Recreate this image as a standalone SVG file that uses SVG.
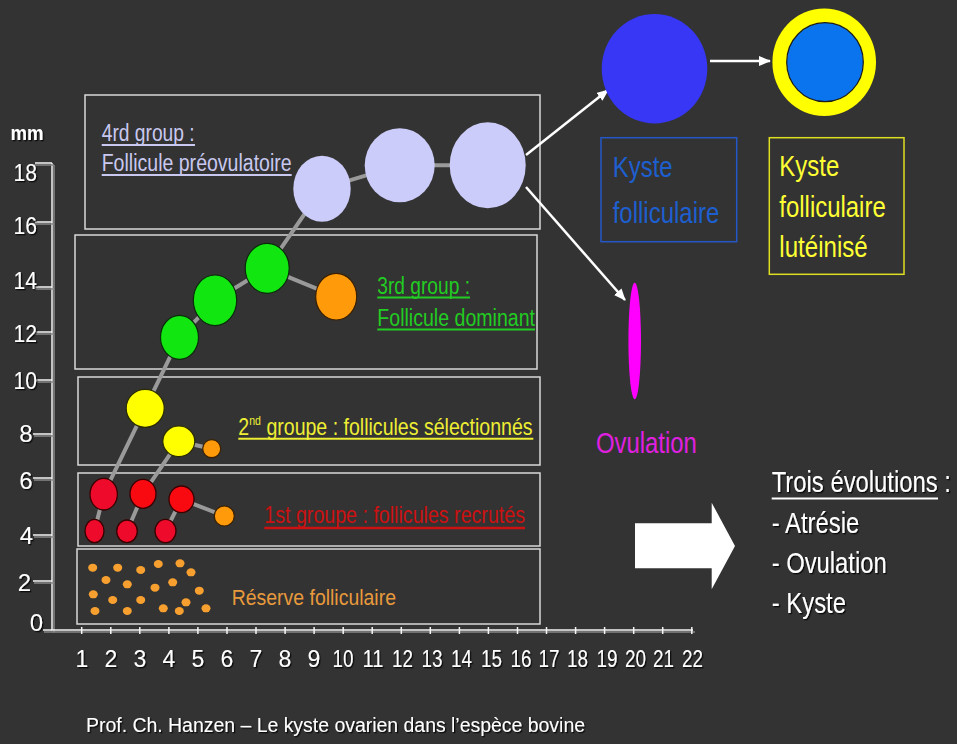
<svg xmlns="http://www.w3.org/2000/svg" width="957" height="744" viewBox="0 0 957 744">
<defs>
<style>
text{font-family:"Liberation Sans",Arial,sans-serif}
.box{fill:none;stroke:#d9d9d9;stroke-width:1.5}
.ax{stroke:#f4f4f4;stroke-width:1.5;fill:none}
.axs{stroke:#888;stroke-width:1.5;fill:none}
.wt{fill:#fff;filter:url(#sh)}
.yl{font-size:24px;text-anchor:end}
.xl{font-size:23px;text-anchor:middle}
.con{stroke:#9a9a9a;stroke-width:4;stroke-linecap:round}
.arr{stroke:#fff;stroke-width:2.5;fill:none}
.lav{fill:#ccccfa}
.grn{fill:#11e611;stroke:#0a2a0a;stroke-width:1.2}
.org{fill:#ff9a0a;stroke:#3a2000;stroke-width:1.2}
.yel{fill:#ffff00;stroke:#2a2a00;stroke-width:1.2}
.red{fill:#ee0a2a;stroke:#3a0000;stroke-width:1.3}
.dot{fill:#f7a030}
.ul{stroke-width:1.8}
</style>
<filter id="sh" x="-10%" y="-20%" width="130%" height="150%">
<feDropShadow dx="1.3" dy="1.3" stdDeviation="0.7" flood-color="#000" flood-opacity="0.8"/>
</filter>
<marker id="ah" viewBox="0 0 12 10" refX="11" refY="5" markerWidth="12" markerHeight="10" markerUnits="userSpaceOnUse" orient="auto">
<path d="M0,0 L12,5 L0,10 z" fill="#fff"/>
</marker>
</defs>
<rect x="0" y="0" width="957" height="744" fill="#333333"/>

<!-- axes -->
<g id="axes">
<path class="axs" d="M54,165 V632 H695"/>
<path class="ax" d="M52,163 V630 H693"/>
<g class="axs">
<line x1="34" y1="165" x2="54" y2="165"/><line x1="34" y1="224" x2="54" y2="224"/><line x1="34" y1="289" x2="54" y2="289"/><line x1="34" y1="334" x2="54" y2="334"/><line x1="34" y1="382" x2="54" y2="382"/><line x1="34" y1="436" x2="54" y2="436"/><line x1="34" y1="480" x2="54" y2="480"/><line x1="34" y1="537" x2="54" y2="537"/><line x1="34" y1="583" x2="54" y2="583"/><line x1="44" y1="632" x2="54" y2="632"/>
</g>
<g class="ax">
<line x1="35" y1="163" x2="52" y2="163"/><line x1="35" y1="222" x2="52" y2="222"/><line x1="35" y1="287" x2="52" y2="287"/><line x1="35" y1="332" x2="52" y2="332"/><line x1="35" y1="380" x2="52" y2="380"/><line x1="33" y1="434" x2="52" y2="434"/><line x1="33" y1="478" x2="52" y2="478"/><line x1="33" y1="535" x2="52" y2="535"/><line x1="33" y1="581" x2="52" y2="581"/><line x1="43" y1="630" x2="52" y2="630"/>
</g>
<g class="ax" stroke-width="1.2">
<path d="M81.7,627V634M110.8,627V634M139.8,627V634M168.9,627V634M197.9,627V634M227,627V634M256,627V634M285.1,627V634M314.1,627V634M343.2,627V634M372.2,627V634M401.3,627V634M430.3,627V634M459.4,627V634M488.4,627V634M517.5,627V634M546.5,627V634M575.6,627V634M604.6,627V634M633.7,627V634M662.7,627V634M691.8,627V634"/>
</g>
<text class="wt" x="10.5" y="140" font-size="20" font-weight="bold" textLength="33" lengthAdjust="spacingAndGlyphs">mm</text>
<g class="wt yl">
<text x="37" y="180.5" textLength="23.5" lengthAdjust="spacingAndGlyphs">18</text>
<text x="37" y="234" textLength="23.5" lengthAdjust="spacingAndGlyphs">16</text>
<text x="37" y="289" textLength="23.5" lengthAdjust="spacingAndGlyphs">14</text>
<text x="37" y="342" textLength="23.5" lengthAdjust="spacingAndGlyphs">12</text>
<text x="37" y="389" textLength="23.5" lengthAdjust="spacingAndGlyphs">10</text>
<text x="32.5" y="442">8</text>
<text x="32.5" y="489">6</text>
<text x="33" y="544">4</text>
<text x="31" y="591">2</text>
<text x="43" y="631">0</text>
</g>
<g class="wt xl">
<text x="82" y="667">1</text><text x="111" y="667">2</text><text x="140" y="667">3</text><text x="169" y="667">4</text><text x="198" y="667">5</text><text x="227" y="667">6</text><text x="256" y="667">7</text><text x="285" y="667">8</text><text x="314" y="667">9</text>
<text x="343" y="667" textLength="21" lengthAdjust="spacingAndGlyphs">10</text>
<text x="373" y="667" textLength="21" lengthAdjust="spacingAndGlyphs">11</text>
<text x="402.5" y="667" textLength="21" lengthAdjust="spacingAndGlyphs">12</text>
<text x="432" y="667" textLength="21" lengthAdjust="spacingAndGlyphs">13</text>
<text x="461.5" y="667" textLength="21" lengthAdjust="spacingAndGlyphs">14</text>
<text x="491.5" y="667" textLength="21" lengthAdjust="spacingAndGlyphs">15</text>
<text x="521" y="667" textLength="21" lengthAdjust="spacingAndGlyphs">16</text>
<text x="549" y="667" textLength="21" lengthAdjust="spacingAndGlyphs">17</text>
<text x="577.5" y="667" textLength="21" lengthAdjust="spacingAndGlyphs">18</text>
<text x="607" y="667" textLength="21" lengthAdjust="spacingAndGlyphs">19</text>
<text x="635.5" y="667" textLength="21" lengthAdjust="spacingAndGlyphs">20</text>
<text x="663.5" y="667" textLength="21" lengthAdjust="spacingAndGlyphs">21</text>
<text x="692.5" y="667" textLength="21" lengthAdjust="spacingAndGlyphs">22</text>
</g>
</g>

<!-- group boxes -->
<g id="group4">
<rect class="box" x="85" y="95" width="455" height="134"/>
<text x="101.7" y="141" font-size="23" fill="#c8c8f0" textLength="93" lengthAdjust="spacingAndGlyphs">4rd group :</text>
<line class="ul" x1="101.7" y1="145" x2="195" y2="145" stroke="#c8c8f0"/>
<text x="101.7" y="171" font-size="23" fill="#c8c8f0" textLength="190" lengthAdjust="spacingAndGlyphs">Follicule préovulatoire</text>
<line class="ul" x1="101.7" y1="175" x2="291.7" y2="175" stroke="#c8c8f0"/>
</g>
<g id="group3">
<rect class="box" x="75" y="235" width="462" height="134"/>
<text x="377.3" y="294" font-size="23" fill="#22cc22" textLength="92.7" lengthAdjust="spacingAndGlyphs">3rd group :</text>
<line class="ul" x1="377.3" y1="297.5" x2="470" y2="297.5" stroke="#22cc22"/>
<text x="377.3" y="326" font-size="23" fill="#22cc22" textLength="157.7" lengthAdjust="spacingAndGlyphs">Follicule dominant</text>
<line class="ul" x1="377.3" y1="329.5" x2="535" y2="329.5" stroke="#22cc22"/>
</g>
<g id="group2">
<rect class="box" x="78" y="377" width="462" height="88"/>
<text transform="translate(238.3 435) scale(0.815 1)" font-size="24" fill="#eeee33">2<tspan font-size="13" dy="-10">nd</tspan><tspan dy="10"> groupe : follicules sélectionnés</tspan></text>
<line x1="238.3" y1="438.8" x2="533.3" y2="438.8" stroke="#eeee33" stroke-width="2"/>
</g>
<g id="group1">
<rect class="box" x="78" y="473" width="462" height="73"/>
<text x="264.3" y="523.3" font-size="24" fill="#cc1111" textLength="260.7" lengthAdjust="spacingAndGlyphs">1st groupe : follicules recrutés</text>
<line x1="264.3" y1="528" x2="525" y2="528" stroke="#cc1111" stroke-width="2.5"/>
</g>
<g id="reserve">
<rect class="box" x="77" y="549" width="463" height="75"/>
<text x="231.7" y="605" font-size="22" fill="#e89a3c" textLength="164.3" lengthAdjust="spacingAndGlyphs">Réserve folliculaire</text>
<g class="dot">
<ellipse cx="92.7" cy="567.7" rx="4.5" ry="4"/><ellipse cx="117.7" cy="567.7" rx="4.5" ry="4"/><ellipse cx="140.7" cy="570" rx="4.5" ry="4"/><ellipse cx="158.3" cy="564" rx="4.5" ry="4"/><ellipse cx="180" cy="563.3" rx="4.5" ry="4"/><ellipse cx="191" cy="572.3" rx="4.5" ry="4"/><ellipse cx="106" cy="580" rx="4.5" ry="4"/><ellipse cx="127.3" cy="584.3" rx="4.5" ry="4"/><ellipse cx="155" cy="587.7" rx="4.5" ry="4"/><ellipse cx="172.7" cy="582.3" rx="4.5" ry="4"/><ellipse cx="199.3" cy="590.7" rx="4.5" ry="4"/><ellipse cx="93.3" cy="594.3" rx="4.5" ry="4"/><ellipse cx="112.7" cy="600" rx="4.5" ry="4"/><ellipse cx="140.7" cy="600" rx="4.5" ry="4"/><ellipse cx="186" cy="602.3" rx="4.5" ry="4"/><ellipse cx="206" cy="608.3" rx="4.5" ry="4"/><ellipse cx="95" cy="611" rx="4.5" ry="4"/><ellipse cx="127.3" cy="611" rx="4.5" ry="4"/><ellipse cx="163.3" cy="608.3" rx="4.5" ry="4"/><ellipse cx="179.3" cy="611" rx="4.5" ry="4"/>
</g>
</g>

<!-- connectors -->
<g id="connectors">
<g class="con">
<line x1="94.5" y1="531" x2="103.7" y2="494.2"/>
<line x1="103.7" y1="494.2" x2="145.2" y2="408.3"/>
<line x1="145.2" y1="408.3" x2="179.5" y2="337.3"/>
<line x1="179.5" y1="337.3" x2="215" y2="300.3"/>
<line x1="215" y1="300.3" x2="267.2" y2="268.3"/>
<line x1="267.2" y1="268.3" x2="322" y2="188.7"/>
<line x1="322" y1="188.7" x2="399.7" y2="165.3"/>
<line x1="399.7" y1="165.3" x2="487.7" y2="165.3"/>
<line x1="267.2" y1="268.3" x2="336.2" y2="296.7"/>
<line x1="127" y1="531.3" x2="143" y2="493.8"/>
<line x1="143" y1="493.8" x2="178.8" y2="441.3"/>
<line x1="178.8" y1="441.3" x2="211.7" y2="448.7"/>
<line x1="165.5" y1="531" x2="181.5" y2="499.3"/>
<line x1="181.5" y1="499.3" x2="224.3" y2="516"/>
</g>
<line class="arr" x1="526" y1="155" x2="608" y2="90" marker-end="url(#ah)"/>
<line class="arr" x1="526" y1="187" x2="625" y2="300" marker-end="url(#ah)"/>
<line class="arr" x1="710" y1="61" x2="770" y2="61" marker-end="url(#ah)"/>
</g>

<!-- follicles -->
<g id="follicles-preovulatory">
<ellipse class="lav" cx="322" cy="188.7" rx="28.7" ry="33"/>
<ellipse class="lav" cx="399.7" cy="165.3" rx="35" ry="37"/>
<ellipse class="lav" cx="487.7" cy="165.3" rx="38" ry="43"/>
</g>
<g id="follicles-dominant">
<ellipse class="grn" cx="179.5" cy="337.3" rx="19" ry="22"/>
<ellipse class="grn" cx="215" cy="300.3" rx="21.7" ry="25.3"/>
<ellipse class="grn" cx="267.2" cy="268.3" rx="22" ry="25"/>
<ellipse class="org" cx="336.2" cy="296.7" rx="20.5" ry="23.3"/>
</g>
<g id="follicles-selected">
<ellipse class="yel" cx="145.2" cy="408.3" rx="19" ry="19"/>
<ellipse class="yel" cx="178.8" cy="441.3" rx="16" ry="15.3"/>
<ellipse class="org" cx="211.7" cy="448.7" rx="9" ry="9"/>
</g>
<g id="follicles-recruited">
<ellipse class="red" cx="103.7" cy="494.2" rx="13.7" ry="15.8"/>
<ellipse class="red" cx="143" cy="493.8" rx="13" ry="14.5" style="fill:#f80a10"/>
<ellipse class="red" cx="181.5" cy="499.3" rx="12.5" ry="13.3" style="fill:#f80a10"/>
<ellipse class="red" cx="94.5" cy="531" rx="9.5" ry="11.7"/>
<ellipse class="red" cx="127" cy="531.3" rx="10.3" ry="11.3"/>
<ellipse class="red" cx="165.5" cy="531" rx="10.5" ry="11.7"/>
<ellipse class="org" cx="224.3" cy="516" rx="10" ry="10"/>
</g>

<!-- outcomes -->
<g id="kyste-folliculaire">
<ellipse cx="654.5" cy="68.7" rx="52.8" ry="54.7" fill="#3737f5"/>
<rect x="601" y="137.7" width="135.7" height="104" fill="none" stroke="#2458c8" stroke-width="1.5"/>
<text x="612.7" y="176.7" font-size="30" fill="#1e5fd0" textLength="60" lengthAdjust="spacingAndGlyphs">Kyste</text>
<text x="612.7" y="223.3" font-size="30" fill="#1e5fd0" textLength="106.7" lengthAdjust="spacingAndGlyphs">folliculaire</text>
</g>
<g id="kyste-luteinise">
<ellipse cx="824.2" cy="62.2" rx="51.8" ry="53.8" fill="#ffff00"/>
<ellipse cx="825" cy="62.2" rx="38.3" ry="39.5" fill="#0a74ee" stroke="#1a1a1a" stroke-width="1.2"/>
<rect x="769.3" y="137.7" width="134.7" height="136.6" fill="none" stroke="#dede22" stroke-width="1.5"/>
<text x="779.3" y="176" font-size="30" fill="#ffff33" textLength="60" lengthAdjust="spacingAndGlyphs">Kyste</text>
<text x="779.3" y="216.7" font-size="30" fill="#ffff33" textLength="106.4" lengthAdjust="spacingAndGlyphs">folliculaire</text>
<text x="779.3" y="256.7" font-size="30" fill="#ffff33" textLength="88.4" lengthAdjust="spacingAndGlyphs">lutéinisé</text>
</g>
<g id="ovulation">
<ellipse cx="634.7" cy="341" rx="6.3" ry="58.3" fill="#ff00ff"/>
<text x="596" y="453.3" font-size="29" fill="#e020e0" textLength="100.7" lengthAdjust="spacingAndGlyphs">Ovulation</text>
</g>
<g id="block-arrow">
<polygon points="635,523.3 711.7,523.3 711.7,502.7 735,546 711.7,589.3 711.7,568.3 635,568.3" fill="#fff"/>
</g>
<g id="evolutions" class="wt">
<text transform="translate(771.7 491.7) scale(0.822 1)" font-size="29">Trois évolutions :</text>
<text x="771.7" y="532.7" font-size="29" textLength="87.6" lengthAdjust="spacingAndGlyphs">- Atrésie</text>
<text x="771.7" y="573.3" font-size="29" textLength="115" lengthAdjust="spacingAndGlyphs">- Ovulation</text>
<text x="771.7" y="613.3" font-size="29" textLength="74.3" lengthAdjust="spacingAndGlyphs">- Kyste</text>
</g>
<line x1="771.7" y1="498.5" x2="938" y2="498.5" stroke="#fff" stroke-width="2"/>
<text class="wt" x="86" y="732" font-size="20" textLength="499" lengthAdjust="spacingAndGlyphs">Prof. Ch. Hanzen – Le kyste ovarien dans l’espèce bovine</text>
</svg>
